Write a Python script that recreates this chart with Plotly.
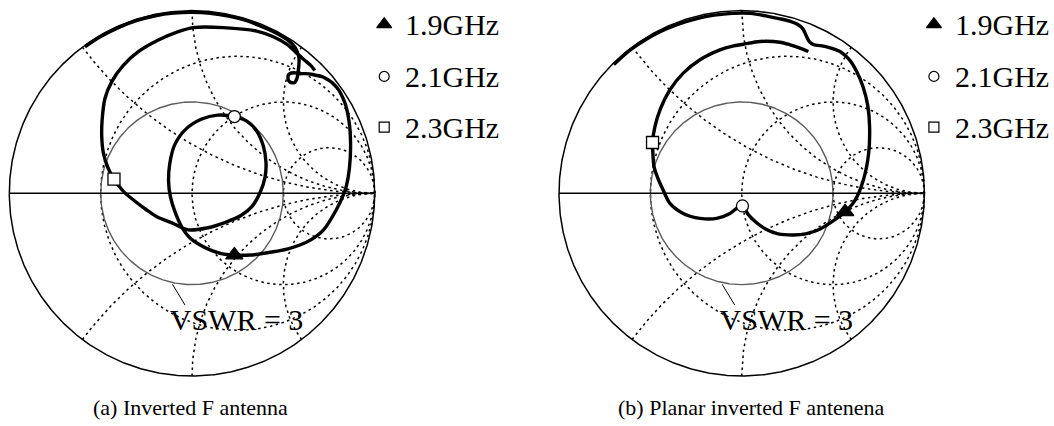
import numpy as np
import plotly.graph_objects as go

# ---- sweep points (reflection coefficient, real / imaginary) ----
FREQ_LABELS = ["1.9GHz", "2.1GHz", "2.3GHz"]
MARKER_SYMBOLS = ["triangle-up", "circle", "square"]
MARKER_FILLS = ["black", "white", "white"]

# (a) inverted F antenna
IFA_RE = [-0.586, -0.50, -0.40, -0.30, -0.20, -0.10, 0.0, 0.10, 0.20, 0.30, 0.40, 0.47, 0.525, 0.565,
          0.585, 0.585, 0.58, 0.575, 0.56, 0.535, 0.525, 0.535, 0.56, 0.585, 0.62, 0.66, 0.72, 0.79,
          0.835, 0.86, 0.868, 0.862, 0.845, 0.828, 0.79, 0.72, 0.65, 0.59, 0.52, 0.445, 0.317, 0.232,
          0.16, 0.099, 0.04, -0.011, -0.05, -0.09, -0.118, -0.128, -0.122, -0.095, -0.035, 0.05, 0.14, 0.232,
          0.30, 0.355, 0.39, 0.405, 0.40, 0.375, 0.33, 0.27, 0.18, 0.08, -0.02, -0.11, -0.19, -0.25, -0.31,
          -0.37, -0.40, -0.427,
          -0.46, -0.485, -0.494, -0.492, -0.476, -0.44, -0.376, -0.294, -0.184, -0.075, 0.007, 0.171,
          0.354, 0.445, 0.52, 0.57, 0.615, 0.65, 0.672]
IFA_IM = [0.802, 0.858, 0.908, 0.946, 0.972, 0.986, 0.99, 0.985, 0.97, 0.945, 0.905, 0.872, 0.838, 0.797,
          0.745, 0.70, 0.66, 0.63, 0.605, 0.61, 0.635, 0.655, 0.66, 0.655, 0.655, 0.65, 0.635, 0.583,
          0.50, 0.39, 0.27, 0.14, 0.04, -0.01, -0.09, -0.20, -0.255, -0.283, -0.305, -0.32, -0.338, -0.338,
          -0.33, -0.31, -0.28, -0.245, -0.195, -0.11, -0.02, 0.06, 0.16, 0.265, 0.35, 0.405, 0.428, 0.42,
          0.395, 0.34, 0.26, 0.17, 0.09, 0.01, -0.07, -0.12, -0.16, -0.19, -0.20, -0.162, -0.13, -0.09, -0.045,
          0.005, 0.04, 0.078,
          0.14, 0.22, 0.31, 0.40, 0.52, 0.61, 0.70, 0.775, 0.839, 0.885, 0.907, 0.907,
          0.888, 0.857, 0.815, 0.77, 0.73, 0.70, 0.672]
IFA_MARK_RE = [0.232, 0.232, -0.427]
IFA_MARK_IM = [-0.338, 0.420, 0.078]

# (b) planar inverted F antenna
PIFA_RE = [-0.70, -0.62, -0.54, -0.45, -0.35, -0.25, -0.15, -0.05, 0.05, 0.137, 0.21, 0.27, 0.305, 0.335,
           0.352, 0.37, 0.395, 0.43, 0.47, 0.54, 0.59, 0.63, 0.665, 0.69, 0.70, 0.695, 0.666, 0.621, 0.566,
           0.502, 0.43, 0.35, 0.283, 0.20, 0.13, 0.08, 0.035, 0.004,
           -0.027, -0.064, -0.137, -0.228, -0.32, -0.393, -0.43, -0.458, -0.48, -0.486, -0.488,
           -0.475, -0.447, -0.393, -0.32, -0.228, -0.119, -0.05, 0.009, 0.10, 0.21, 0.265, 0.319, 0.365]
PIFA_IM = [0.705, 0.777, 0.832, 0.883, 0.925, 0.955, 0.975, 0.985, 0.985, 0.97, 0.955, 0.94, 0.925, 0.90,
           0.865, 0.83, 0.813, 0.808, 0.80, 0.775, 0.73, 0.665, 0.58, 0.48, 0.365, 0.22, 0.073, -0.037, -0.101,
           -0.15, -0.195, -0.222, -0.228, -0.222, -0.195, -0.16, -0.115, -0.069,
           -0.082, -0.110, -0.137, -0.137, -0.11, -0.055, 0.018, 0.08, 0.146, 0.219, 0.278,
           0.365, 0.457, 0.566, 0.658, 0.731, 0.785, 0.806, 0.816, 0.831, 0.827, 0.813, 0.795, 0.776]
PIFA_MARK_RE = [0.566, 0.004, -0.488]
PIFA_MARK_IM = [-0.101, -0.069, 0.278]

# ---- Smith chart grid values ----
R_CIRCLES = [1 / 3, 1, 3]
X_ARCS = [0.5, 1, 2]
VSWR = 3

CAPTIONS = ["(a) Inverted F antenna", "(b) Planar inverted F antenena"]

SERIF = "Liberation Serif"
W, H = 1054, 426
PX_PER_UNIT = 182.7
X_RANGE = [-1.05, 1.70]   # extra room on the right for the key
Y_RANGE = [-1.05, 1.05]
CENTER_Y_TOP = 193.3
CENTERS_X = [192.0, 741.7]
CAPTION_X = [190.0, 751.0]

fig = go.Figure()

ydom = [(H - CENTER_Y_TOP + Y_RANGE[0] * PX_PER_UNIT) / H, (H - CENTER_Y_TOP + Y_RANGE[1] * PX_PER_UNIT) / H]
theta = np.linspace(0, 2 * np.pi, 721)
r_sweep = np.concatenate([[0.0], np.logspace(-3, 4, 600)])
dotted = dict(color="black", width=1.5, dash="2.5px,3.5px")


def add_chart(idx, curve_re, curve_im, mark_re, mark_im):
    sfx = "" if idx == 0 else str(idx + 1)
    xa, ya = "x" + sfx, "y" + sfx
    cx = CENTERS_X[idx]
    fig.layout["xaxis" + sfx] = dict(domain=[(cx + X_RANGE[0] * PX_PER_UNIT) / W,
                                             (cx + X_RANGE[1] * PX_PER_UNIT) / W],
                                     range=X_RANGE, visible=False, fixedrange=True)
    fig.layout["yaxis" + sfx] = dict(domain=ydom, range=Y_RANGE, visible=False, fixedrange=True)
    common = dict(xaxis=xa, yaxis=ya, hoverinfo="skip", showlegend=False)

    # label under the grid
    fig.add_trace(go.Scatter(x=[0.244], y=[-0.708], mode="text", text=["VSWR = 3"],
                             textfont=dict(family=SERIF, size=30, color="black"), **common))
    fig.add_trace(go.Scatter(x=[-0.107, -0.038], y=[-0.498, -0.612], mode="lines",
                             line=dict(color="black", width=1), **common))

    # constant resistance circles
    for r in R_CIRCLES:
        c, rad = r / (1 + r), 1 / (1 + r)
        fig.add_trace(go.Scatter(x=c + rad * np.cos(theta), y=rad * np.sin(theta), mode="lines",
                                 line=dotted, **common))
    # constant reactance arcs
    for xv in X_ARCS:
        for s in (1, -1):
            z = r_sweep + 1j * s * xv
            g = (z - 1) / (z + 1)
            fig.add_trace(go.Scatter(x=g.real, y=g.imag, mode="lines", line=dotted, **common))

    # VSWR circle
    rho = (VSWR - 1) / (VSWR + 1)
    fig.add_trace(go.Scatter(x=rho * np.cos(theta), y=rho * np.sin(theta), mode="lines",
                             line=dict(color="#5c5c5c", width=1.4), **common))
    # outer boundary and real axis
    fig.add_trace(go.Scatter(x=np.cos(theta), y=np.sin(theta), mode="lines",
                             line=dict(color="black", width=1.5), **common))
    fig.add_trace(go.Scatter(x=[-1, 1], y=[0, 0], mode="lines",
                             line=dict(color="black", width=1.5), **common))

    # measured locus
    fig.add_trace(go.Scatter(x=curve_re, y=curve_im, mode="lines",
                             line=dict(color="black", width=3.4, shape="spline", smoothing=0.8), **common))
    # frequency markers
    fig.add_trace(go.Scatter(x=mark_re, y=mark_im, mode="markers",
                             marker=dict(symbol=MARKER_SYMBOLS, size=[15, 12, 12], color=MARKER_FILLS,
                                         opacity=1, line=dict(color="black", width=1.3)), **common))

    # key
    key_y = [0.925, 0.64, 0.362]
    fig.add_trace(go.Scatter(x=[1.052] * 3, y=key_y, mode="markers",
                             marker=dict(symbol=MARKER_SYMBOLS, size=[13, 10, 10], color=MARKER_FILLS,
                                         opacity=1, line=dict(color="black", width=1.2)), **common))
    for lab, yy in zip(FREQ_LABELS, key_y):
        fig.add_annotation(x=1.155, y=yy, xref=xa, yref=ya, text=lab, showarrow=False,
                           xanchor="left", yanchor="middle",
                           font=dict(family=SERIF, size=30, color="black"))

    fig.add_annotation(x=CAPTION_X[idx] / W, y=(H - 407) / H, xref="paper", yref="paper",
                       text=CAPTIONS[idx], showarrow=False, xanchor="center", yanchor="middle",
                       font=dict(family=SERIF, size=22, color="black"))


add_chart(0, IFA_RE, IFA_IM, IFA_MARK_RE, IFA_MARK_IM)
add_chart(1, PIFA_RE, PIFA_IM, PIFA_MARK_RE, PIFA_MARK_IM)

fig.update_layout(width=W, height=H, margin=dict(l=0, r=0, t=0, b=0),
                  paper_bgcolor="white", plot_bgcolor="white", showlegend=False)

fig.write_html("out.html")
